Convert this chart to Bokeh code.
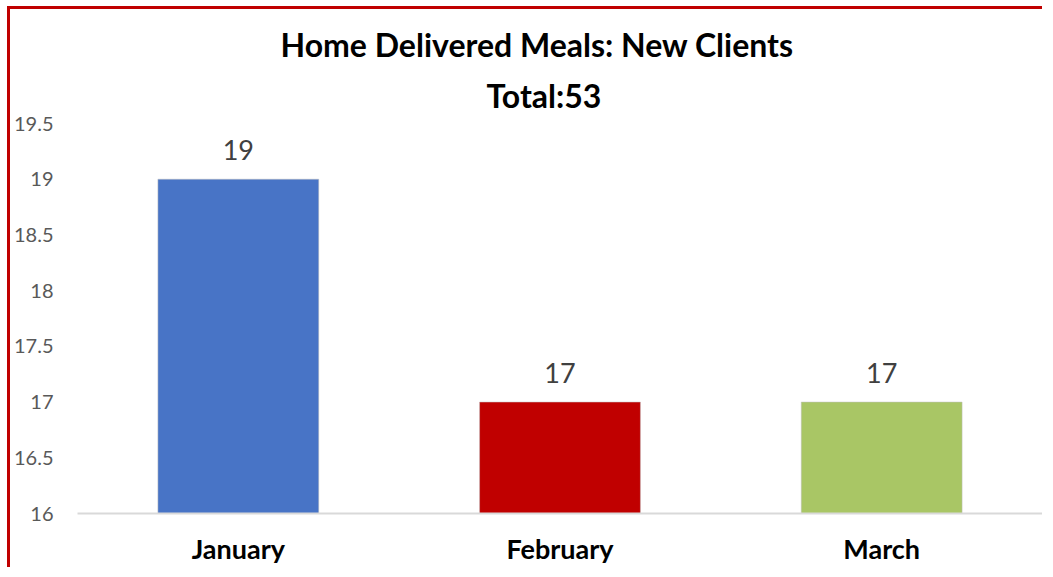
from bokeh.plotting import figure
from bokeh.models import ColumnDataSource, FixedTicker, Range1d, Title
from bokeh.core.properties import value
from bokeh.embed import file_html
from bokeh.resources import INLINE

months = ["January", "February", "March"]
clients = [19, 17, 17]
colors = ["#4874c6", "#c00000", "#a9c665"]
title_main = "Home Delivered Meals: New Clients"
title_total = "Total:53"
y_ticks = [16, 16.5, 17, 17.5, 18, 18.5, 19, 19.5]

src = ColumnDataSource(dict(month=months, clients=clients, color=colors,
                            label=[str(v) for v in clients]))

p = figure(x_range=months, y_range=Range1d(16, 19.5),
           frame_width=965, frame_height=390,
           min_border_left=67, min_border_top=114, min_border_right=0,
           min_border_bottom=50,
           output_backend="svg", toolbar_location=None)
p.styles = {"border-top": "3px solid #c00000", "border-left": "3px solid #c00000",
            "margin-top": "6px", "margin-left": "7px"}
p.outline_line_color = None
p.xgrid.grid_line_color = None
p.ygrid.grid_line_color = None
p.background_fill_color = "white"
p.border_fill_color = "white"

# outer title line
p.title.text = title_main
p.title.align = "left"
p.title.offset = 203
p.title.text_font = "Lato"
p.title.text_font_style = "bold"
p.title.text_font_size = "32px"
p.title.text_color = "#000000"
p.title.standoff = 3

# inner title line (closest to the plot)
p.add_layout(Title(text=title_total, align="left", offset=409,
                   text_font="Lato", text_font_style="bold",
                   text_font_size="32px", text_color="#000000",
                   standoff=17), "above")

p.vbar(x="month", top="clients", bottom=16, width=0.5, source=src,
       fill_color="color", line_color="#bfbfbf", line_alpha=0.5, line_width=1)

p.text(x="month", y="clients", text="label", source=src,
       y_offset=-29, text_align="center", text_baseline="middle",
       text_font=value("Lato"), text_font_size="27px", text_color="#404040")

p.yaxis.ticker = FixedTicker(ticks=y_ticks)
p.yaxis.axis_line_color = None
p.yaxis.major_tick_line_color = None
p.yaxis.minor_tick_line_color = None
p.yaxis.major_label_standoff = 18
p.yaxis.major_label_text_font = "Lato"
p.yaxis.major_label_text_font_size = "20px"
p.yaxis.major_label_text_color = "#595959"

p.xaxis.axis_line_color = "#d9d9d9"
p.xaxis.axis_line_width = 2
p.xaxis.major_tick_line_color = None
p.xaxis.minor_tick_line_color = None
p.xaxis.major_label_standoff = 12
p.xaxis.major_label_text_font = "Lato"
p.xaxis.major_label_text_font_style = "bold"
p.xaxis.major_label_text_font_size = "27px"
p.xaxis.major_label_text_color = "#000000"

open("out.html", "w").write(file_html(p, INLINE))
